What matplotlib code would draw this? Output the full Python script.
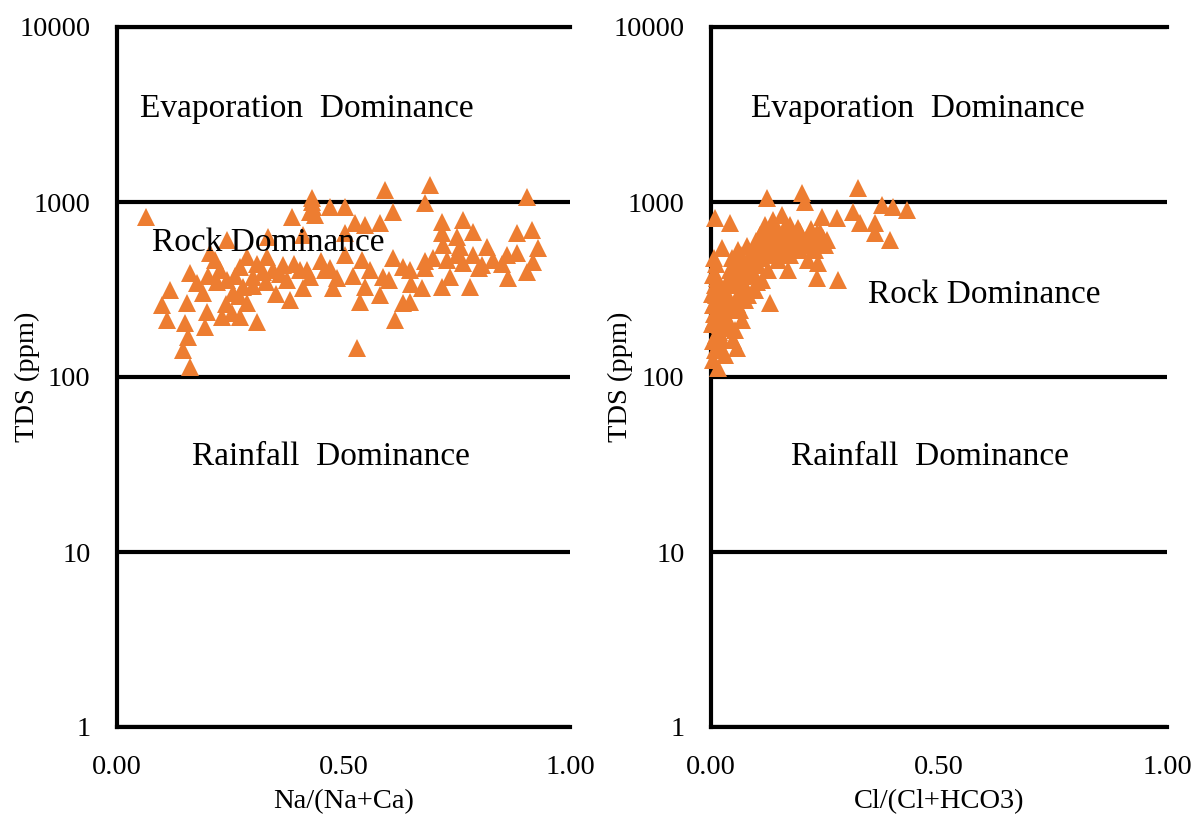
import matplotlib
matplotlib.use("Agg")
import matplotlib.pyplot as plt
from matplotlib.ticker import FixedLocator, FixedFormatter, NullLocator

plt.rcParams['font.family'] = ['Liberation Serif', 'DejaVu Serif']

# Left panel: Na/(Na+Ca) vs TDS
na_ratio = [0.064, 0.117, 0.099, 0.110, 0.155, 0.150, 0.157, 0.146, 0.161, 0.194,
            0.199, 0.161, 0.177, 0.190, 0.216, 0.227, 0.243, 0.232, 0.254, 0.272,
            0.309, 0.287, 0.256, 0.278, 0.300, 0.322, 0.344, 0.366, 0.382, 0.375,
            0.404, 0.426, 0.243, 0.205, 0.333, 0.411, 0.386, 0.430, 0.426, 0.287,
            0.331, 0.272,
            0.430, 0.433, 0.437, 0.470, 0.503, 0.592, 0.691, 0.680, 0.609, 0.905,
            0.525, 0.547, 0.581, 0.503, 0.717, 0.764, 0.786, 0.717, 0.751, 0.883,
            0.916, 0.929, 0.817, 0.720, 0.757, 0.503, 0.459, 0.486, 0.477, 0.541,
            0.558, 0.587, 0.547, 0.581, 0.536, 0.609, 0.631, 0.647, 0.680, 0.698,
            0.728, 0.764, 0.786, 0.806, 0.830, 0.861, 0.883, 0.918, 0.905, 0.863,
            0.779, 0.735, 0.717, 0.673, 0.631, 0.647, 0.614, 0.530, 0.419, 0.411,
            0.200, 0.220, 0.260, 0.300, 0.330, 0.350, 0.240, 0.270, 0.310, 0.360,
            0.390, 0.450, 0.470, 0.520, 0.600, 0.650, 0.680, 0.750, 0.800, 0.850]
tds_left = [821, 314, 258, 212, 265, 204, 169, 143, 114, 193,
            235, 393, 344, 302, 467, 409, 358, 220, 232, 220,
            206, 265, 302, 327, 373, 398, 409, 436, 275, 358,
            409, 373, 607, 512, 631, 648, 821, 1000, 877, 485,
            485, 425,
            1054, 936, 843, 936, 936, 1172, 1250, 987, 877, 1069,
            759, 739, 759, 665, 769, 789, 674, 665, 631, 665,
            692, 546, 553, 568, 553, 498, 409, 368, 323, 467,
            409, 373, 327, 294, 268, 479, 425, 409, 420, 479,
            467, 448, 498, 436, 467, 498, 512, 454, 398, 368,
            327, 373, 327, 323, 265, 268, 212, 147, 409, 323,
            380, 350, 380, 330, 350, 300, 260, 290, 440, 390,
            440, 460, 420, 380, 360, 340, 460, 500, 420, 440]

# Right panel: Cl/(Cl+HCO3) vs TDS
cl_ratio = [0.322, 0.123, 0.200, 0.206, 0.375, 0.399, 0.430, 0.311, 0.276, 0.243,
            0.009, 0.042, 0.327, 0.360, 0.360, 0.393, 0.024, 0.232, 0.254, 0.195,
            0.136, 0.145, 0.235, 0.232, 0.279, 0.129, 0.057, 0.015,
            0.004, 0.009, 0.011, 0.004, 0.015, 0.007, 0.020, 0.011, 0.024, 0.009,
            0.031, 0.004, 0.020, 0.029, 0.037,
            0.042, 0.053, 0.046, 0.059, 0.042, 0.064, 0.037, 0.053, 0.068, 0.048,
            0.075, 0.064, 0.075, 0.059,
            0.086, 0.096, 0.107, 0.118, 0.103, 0.086, 0.112, 0.096, 0.081, 0.125,
            0.129, 0.118,
            0.140, 0.151, 0.162, 0.173, 0.184, 0.195, 0.147, 0.169, 0.156, 0.173,
            0.191,
            0.206, 0.217, 0.228, 0.250, 0.239, 0.213,
            0.002, 0.013, 0.026, 0.033, 0.050, 0.070, 0.090, 0.100, 0.110, 0.135,
            0.160, 0.180, 0.020, 0.030, 0.045, 0.080, 0.145,
            0.003, 0.006, 0.008, 0.012, 0.016, 0.005, 0.018, 0.022, 0.027, 0.012,
            0.006, 0.035, 0.040, 0.045, 0.055, 0.060, 0.065, 0.070, 0.075, 0.050,
            0.058, 0.066, 0.085, 0.092, 0.098, 0.105, 0.110, 0.120, 0.128, 0.132,
            0.138, 0.145, 0.092, 0.100, 0.155, 0.165, 0.175, 0.185, 0.200, 0.210,
            0.220, 0.225, 0.245, 0.165]
tds_right = [1202, 1054, 1125, 1000, 962, 936, 900, 877, 811, 821,
             811, 759, 759, 759, 665, 607, 546, 665, 607, 674,
             789, 665, 448, 368, 358, 265, 147, 112,
             383, 336, 294, 258, 242, 212, 198, 174, 163, 143,
             134, 125, 275, 314, 358,
             409, 454, 336, 294, 258, 242, 212, 186, 212, 163,
             275, 358, 436, 532,
             498, 568, 648, 532, 436, 383, 358, 314, 294, 409,
             498, 739,
             568, 648, 568, 498, 568, 532, 467, 409, 843, 739,
             710,
             568, 648, 532, 568, 674, 467,
             300, 370, 230, 190, 400, 320, 440, 500, 600, 620,
             700, 620, 150, 280, 480, 560, 520,
             200, 230, 270, 320, 350, 160, 180, 210, 250, 440,
             480, 300, 350, 380, 420, 470, 500, 380, 330, 240,
             260, 300, 450, 520, 600, 560, 480, 600, 680, 560,
             720, 600, 400, 350, 620, 650, 600, 650, 600, 620,
             700, 580, 620, 540]

y_ticks = [1, 10, 100, 1000, 10000]
y_labels = ['1', '10', '100', '1000', '10000']
x_ticks = [0.0, 0.5, 1.0]
x_labels = ['0.00', '0.50', '1.00']

zones_left = [("Evaporation  Dominance", 0.420, 3400),
              ("Rock Dominance", 0.333, 583),
              ("Rainfall  Dominance", 0.473, 35)]
zones_right = [("Evaporation  Dominance", 0.453, 3400),
               ("Rock Dominance", 0.599, 294),
               ("Rainfall  Dominance", 0.480, 35)]

fig = plt.figure(figsize=(12, 8.18), dpi=100)
W, H = 1200, 818
ax1 = fig.add_axes([117 / W, 1 - 727 / H, 453 / W, 700 / H])
ax2 = fig.add_axes([711 / W, 1 - 727 / H, 456 / W, 700 / H])

orange = '#ED7D31'
lw = 3.0

for ax, xs, ys, xlabel, zones in [(ax1, na_ratio, tds_left, 'Na/(Na+Ca)', zones_left),
                                  (ax2, cl_ratio, tds_right, 'Cl/(Cl+HCO3)', zones_right)]:
    ax.set_yscale('log')
    ax.set_xlim(0, 1)
    ax.set_ylim(1, 10000)
    ax.yaxis.set_major_locator(FixedLocator(y_ticks))
    ax.yaxis.set_major_formatter(FixedFormatter(y_labels))
    ax.yaxis.set_minor_locator(NullLocator())
    ax.xaxis.set_major_locator(FixedLocator(x_ticks))
    ax.xaxis.set_major_formatter(FixedFormatter(x_labels))
    ax.tick_params(axis='both', length=0, labelsize=20.5)
    ax.tick_params(axis='y', pad=19)
    ax.tick_params(axis='x', pad=20)
    ax.spines['right'].set_visible(False)
    for side in ['left', 'bottom', 'top']:
        ax.spines[side].set_linewidth(lw)
        ax.spines[side].set_color('black')
    ax.grid(axis='y', color='black', linewidth=lw)
    ax.set_axisbelow(True)
    ax.plot(xs, ys, linestyle='none', marker='^', markersize=12.5,
            color=orange, markeredgewidth=0, zorder=3, clip_on=False)
    ax.set_xlabel(xlabel, fontsize=20.5)
    ax.set_ylabel('TDS (ppm)', fontsize=20.5)
    ax.xaxis.set_label_coords(0.5, -0.088)
    ax.yaxis.set_label_coords(-0.171, 0.5)
    for txt, x, y in zones:
        ax.text(x, y, txt, fontsize=24, ha='center', va='center', zorder=4)

fig.savefig('out.png', dpi=100)
